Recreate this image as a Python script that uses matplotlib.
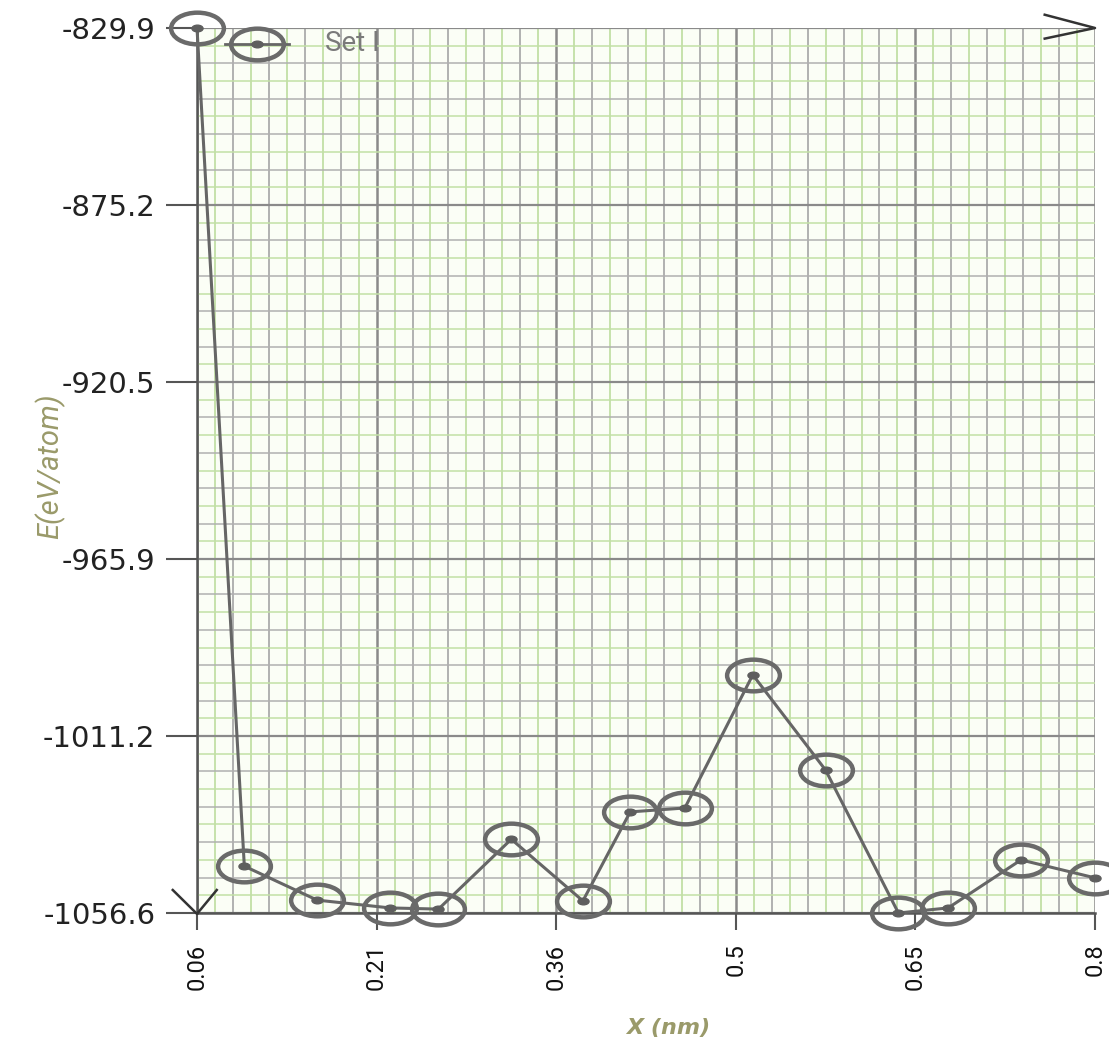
import matplotlib
matplotlib.use("Agg")
import matplotlib.pyplot as plt
from matplotlib.path import Path
from matplotlib.transforms import Affine2D
import numpy as np

# data
x_nm = [0.06, 0.099, 0.159, 0.219, 0.259, 0.319, 0.378, 0.417, 0.462,
        0.518, 0.578, 0.638, 0.679, 0.739, 0.80]
energy = [-829.9, -1044.6, -1053.3, -1055.3, -1055.6, -1037.7, -1053.5, -1030.7,
          -1029.7, -995.6, -1020.0, -1056.6, -1055.3, -1043.0, -1047.6]
x_labels = ["0.06", "0.21", "0.36", "0.5", "0.65", "0.8"]
y_labels = ["-1056.6", "-1011.2", "-965.9", "-920.5", "-875.2", "-829.9"]
series_name = "Set I"

x_min, x_max = 0.06, 0.80
y_min, y_max = -1056.6, -829.9

# the source image is stretched sideways, so the circles come out as ellipses
ellipse = Path.unit_circle().transformed(Affine2D().scale(1.0, 0.6))

fig = plt.figure(figsize=(11.09, 10.45), dpi=100)
ax = fig.add_axes([197 / 1109, 1 - 913 / 1045, (1095 - 197) / 1109, (913 - 28) / 1045])
ax.set_facecolor("#fbfef6")

# grid: minor lines alternate grey/green, major lines darker grey
x_minor = np.linspace(x_min, x_max, 51)
y_minor = np.linspace(y_min, y_max, 51)
for i, v in enumerate(x_minor):
    if i % 10 == 0:
        ax.axvline(v, color="#8a8a8a", lw=1.8, zorder=1)
    else:
        ax.axvline(v, color="#ababab" if i % 2 == 0 else "#c2e0a6", lw=1.3, zorder=1)
for i, v in enumerate(y_minor):
    if i % 10 == 0:
        ax.axhline(v, color="#8a8a8a", lw=1.6, zorder=1)
    else:
        ax.axhline(v, color="#b0b0b0" if i % 2 == 0 else "#c2e0a6", lw=1.1, zorder=1)

ax.plot(x_nm, energy, color="#666666", lw=2.2, zorder=3, clip_on=False)
ax.plot(x_nm, energy, linestyle="none", marker=ellipse, markersize=38, fillstyle="none",
        markeredgewidth=3.2, markeredgecolor="#6a6a6a", zorder=4, clip_on=False)
ax.plot(x_nm, energy, linestyle="none", marker=ellipse, markersize=8,
        color="#5e5e5e", zorder=5, clip_on=False)

ax.set_xlim(x_min, x_max)
ax.set_ylim(y_min, y_max)
ax.set_xticks(np.linspace(x_min, x_max, 6))
ax.set_xticklabels(x_labels, rotation=90, fontsize=17, color="#111111",
                   family=["DejaVu Sans Condensed", "Roboto", "DejaVu Sans"])
ax.set_yticks(np.linspace(y_min, y_max, 6))
ax.set_yticklabels(y_labels, fontsize=21, color="#222222",
                   family=["DejaVu Sans"])
ax.tick_params(axis="x", length=12, width=1.5, color="#555555", pad=10)
ax.tick_params(axis="y", length=22, width=1.5, color="#555555", pad=8)

for side in ["top", "right"]:
    ax.spines[side].set_visible(False)
for side in ["left", "bottom"]:
    ax.spines[side].set_color("#555555")
    ax.spines[side].set_linewidth(1.8)

# arrow heads at the axis ends
arrow = dict(color="#333333", lw=1.8, clip_on=False, zorder=6, transform=ax.transAxes)
ax.plot([-0.027, 0.0, 0.022], [0.026, -0.001, 0.026], **arrow)
ax.plot([0.944, 1.0, 0.944], [1.015, 1.0, 0.988], **arrow)

# legend
ax.plot([0.031, 0.103], [0.982, 0.982], color="#666666", lw=2, transform=ax.transAxes,
        clip_on=False, zorder=6)
ax.plot([0.067], [0.982], marker=ellipse, markersize=38, fillstyle="none", markeredgewidth=3.2,
        markeredgecolor="#6a6a6a", transform=ax.transAxes, clip_on=False, zorder=6)
ax.plot([0.067], [0.982], marker=ellipse, markersize=8, color="#5e5e5e",
        transform=ax.transAxes, clip_on=False, zorder=6)
ax.text(0.142, 0.982, series_name, transform=ax.transAxes, fontsize=20, color="#7a7a7a",
        va="center", ha="left", family=["Roboto", "DejaVu Sans"])

ax.set_ylabel("E(eV/atom)", fontsize=21, color="#9a9a6a", style="italic",
              family=["Roboto", "DejaVu Sans"])
ax.yaxis.set_label_coords(-0.147, 0.505)
ax.set_xlabel("X (nm)", fontsize=16, color="#9a9a6a", style="italic", weight="bold",
              family=["DejaVu Sans"])
ax.xaxis.label.set_verticalalignment("center")
ax.xaxis.set_label_coords(0.525, -0.130)

fig.savefig("out.png", dpi=100)
